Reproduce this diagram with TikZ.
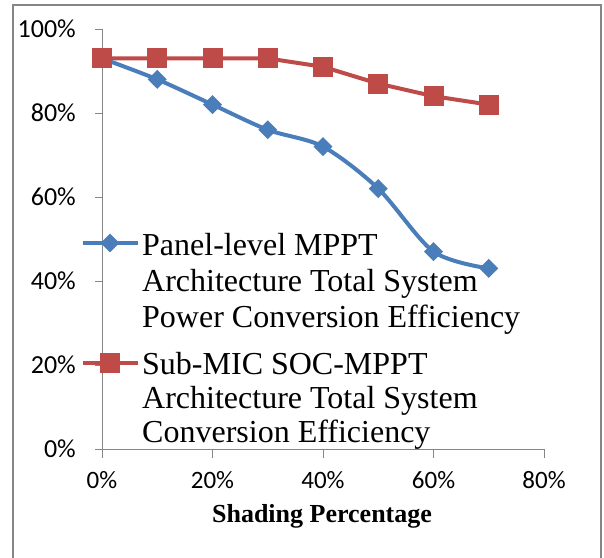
\documentclass[tikz,border=0pt]{standalone}
\usepackage{fontspec}
\setmainfont{Liberation Serif}
\newfontfamily\tickfont{Carlito}
\usetikzlibrary{positioning,shapes.geometric}

\definecolor{panelblue}{HTML}{4A7EBB}
\definecolor{subred}{HTML}{BE4B48}
\definecolor{axisgray}{HTML}{868686}

\begin{document}
\begin{tikzpicture}[x=1pt,y=-1pt,
    ticklabel/.style={font=\tickfont\fontsize{25}{25}\selectfont,inner sep=0pt},
    legtext/.style={font=\fontsize{32}{34}\selectfont,align=left,inner sep=0pt,
      anchor=north west},
    squaremark/.style={rectangle,fill=subred,minimum size=20pt,inner sep=0pt},
    diamondmark/.style={diamond,fill=panelblue,minimum width=19pt,
      minimum height=19pt,inner sep=0pt}]
    \useasboundingbox (0,0) rectangle (604,557);
    \fill[white] (0,0) rectangle (604,557);

    % chart frame
    \draw[axisgray,line width=1.5pt] (13,5) rectangle (601,575);

    % axes
    \coordinate (origin) at (102,449);
    \coordinate (ytop) at (102,29);
    \coordinate (xend) at (544,449);
    \draw[axisgray,line width=0.8pt] (ytop) -- (origin) -- (xend);
    \foreach \v in {0,1,...,5} {
      \draw[axisgray,line width=0.8pt] (95,449-84*\v) -- (102,449-84*\v);
      \pgfmathtruncatemacro{\pct}{20*\v}
      \node[ticklabel,font=\tickfont\fontsize{26}{26}\selectfont,anchor=east]
        (ylab\v) at (76,449-84*\v) {\pct\%};
    }
    \foreach \v in {0,1,...,4} {
      \draw[axisgray,line width=0.8pt] (102+110.5*\v,449) -- (102+110.5*\v,458);
      \pgfmathtruncatemacro{\pct}{20*\v}
      \node[ticklabel] (xlab\v) at (102+110.5*\v,480) {\pct\%};
    }
    \node[font=\bfseries\fontsize{26}{26}\selectfont] (xtitle) at (322,516)
      {Shading Percentage};

    % data
    \begin{scope}[shift={(102,449)},x=5.525pt,y=4.2pt]
      \draw[subred,line width=4pt] plot coordinates
        {(0,93) (10,93) (20,93) (30,93) (40,91) (50,87) (60,84) (70,82)};
      \draw[panelblue,line width=4pt] plot[smooth,tension=0.5] coordinates
        {(0,93) (10,88) (20,82) (30,76) (40,72) (50,62) (60,47) (70,43)};
      \foreach \xv/\yv [count=\i] in {0/93,10/88,20/82,30/76,40/72,50/62,60/47,70/43}
        \node[diamondmark] (panel\i) at (\xv,\yv) {};
      \foreach \xv/\yv [count=\i] in {0/93,10/93,20/93,30/93,40/91,50/87,60/84,70/82}
        \node[squaremark] (sub\i) at (\xv,\yv) {};
    \end{scope}

    % legend
    \coordinate (bluea) at (83,243);
    \coordinate (blueb) at (138,243);
    \draw[panelblue,line width=4pt] (bluea) -- (blueb);
    \node[diamondmark] (bluekey) at (110,243) {};
    \node[legtext,font=\fontsize{32}{36}\selectfont] (paneltext) at (142,233)
      {Panel-level MPPT\\Architecture Total System\\Power Conversion Efficiency};
    \coordinate (reda) at (83,363);
    \coordinate (redb) at (138,363);
    \draw[subred,line width=4pt] (reda) -- (redb);
    \node[squaremark] (redkey) at (110,363) {};
    \node[legtext] (subtext) at (142,352)
      {Sub-MIC SOC-MPPT\\Architecture Total System\\Conversion Efficiency};
\end{tikzpicture}
\end{document}
